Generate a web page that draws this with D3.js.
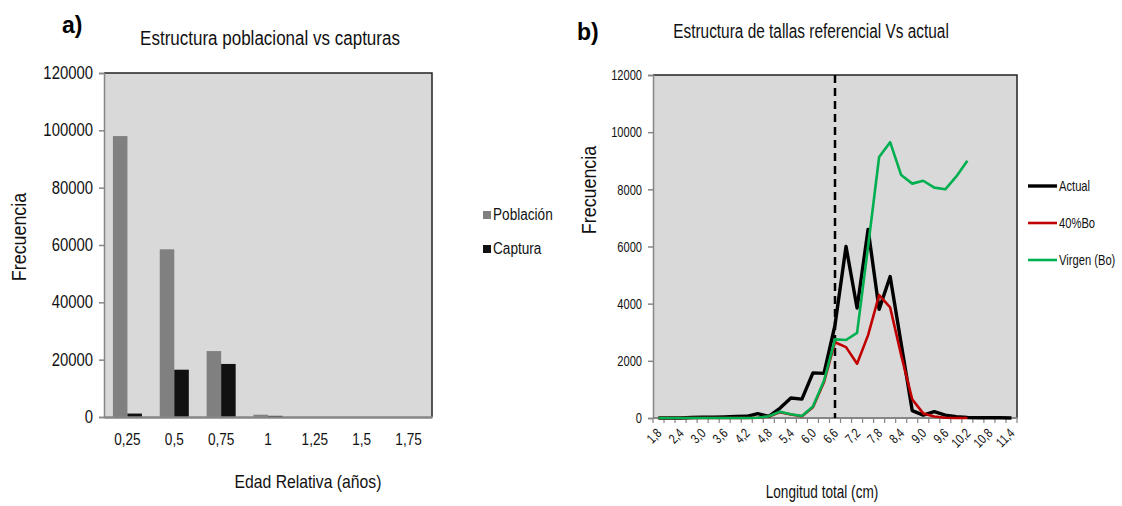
<!DOCTYPE html>
<html>
<head>
<meta charset="utf-8">
<script src="https://cdn.jsdelivr.net/npm/d3@7"></script>
<style>
  body { margin: 0; background: #fff; }
  svg { display: block; font-family: "Liberation Sans", Arial, sans-serif; }
</style>
</head>
<body>
<div id="chart"></div>
<script>
// a) age structure: population vs catch
const ageCats = ["0,25", "0,5", "0,75", "1", "1,25", "1,5", "1,75"];
const poblacion = [98000, 58500, 23000, 800, 0, 0, 0];
const captura = [1200, 16500, 18500, 400, 0, 0, 0];
const leftTicks = [0, 20000, 40000, 60000, 80000, 100000, 120000];

// b) length structure, reference vs current
const lenCats = ["1,8", "2,1", "2,4", "2,7", "3,0", "3,3", "3,6", "3,9", "4,2", "4,5", "4,8",
  "5,1", "5,4", "5,7", "6,0", "6,3", "6,6", "6,9", "7,2", "7,5", "7,8", "8,1", "8,4", "8,7",
  "9,0", "9,3", "9,6", "9,9", "10,2", "10,5", "10,8", "11,1", "11,4"];
const actual = [0, 0, 0, 20, 30, 30, 40, 50, 60, 150, 60, 340, 700, 660, 1580, 1560, 3250,
  6000, 3850, 6600, 3800, 4950, 2600, 260, 100, 220, 100, 50, 20, 10, 10, 10, 0];
const bo40 = [0, 0, 0, 0, 0, 0, 0, 0, 0, 10, 50, 200, 120, 60, 380, 1250, 2650, 2480, 1900,
  2900, 4300, 3870, 2200, 650, 160, 50, 10, 0, 0];
const virgen = [0, 0, 0, 0, 0, 0, 0, 0, 0, 10, 60, 220, 130, 70, 400, 1300, 2750, 2730, 2980,
  6000, 9130, 9650, 8500, 8200, 8300, 8060, 8000, 8450, 9000];
const lenTicks = ["1,8", "2,4", "3,0", "3,6", "4,2", "4,8", "5,4", "6,0", "6,6", "7,2", "7,8",
  "8,4", "9,0", "9,6", "10,2", "10,8", "11,4"];
const rightTicks = [0, 2000, 4000, 6000, 8000, 10000, 12000];
const refLen = "6,6";

const W = 1122, H = 506;
const svg = d3.select("#chart").append("svg").attr("width", W).attr("height", H);
svg.append("rect").attr("width", W).attr("height", H).attr("fill", "#fff");

const axisGray = "#868686";

// ---------- panel a ----------
const A = { left: 104, right: 432, top: 73, bottom: 417 };

svg.append("rect")
  .attr("x", A.left).attr("y", A.top)
  .attr("width", A.right - A.left).attr("height", A.bottom - A.top)
  .attr("fill", "#d9d9d9");

const xA = d3.scaleBand().domain(ageCats).range([A.left, A.right])
  .paddingInner(0.38).paddingOuter(0.19);
const xAsub = d3.scaleBand().domain(["p", "c"]).range([0, xA.bandwidth()]);
const yA = d3.scaleLinear().domain([0, 120000]).range([A.bottom, A.top]);

const barsA = svg.append("g");
barsA.selectAll(".pob").data(poblacion).join("rect")
  .attr("class", "pob")
  .attr("x", (d, i) => xA(ageCats[i]) + xAsub("p"))
  .attr("y", (d) => yA(d))
  .attr("width", xAsub.bandwidth())
  .attr("height", (d) => A.bottom - yA(d))
  .attr("fill", "#808080");
barsA.selectAll(".cap").data(captura).join("rect")
  .attr("class", "cap")
  .attr("x", (d, i) => xA(ageCats[i]) + xAsub("c"))
  .attr("y", (d) => yA(d))
  .attr("width", xAsub.bandwidth())
  .attr("height", (d) => A.bottom - yA(d))
  .attr("fill", "#111");

// frame: top + right dark
svg.append("path")
  .attr("d", `M${A.left},${A.top}H${A.right}V${A.bottom}`)
  .attr("fill", "none").attr("stroke", "#222").attr("stroke-width", 1.5);

const yAxisA = svg.append("g")
  .attr("transform", `translate(${A.left},0)`)
  .call(d3.axisLeft(yA).tickValues(leftTicks).tickSize(5).tickPadding(6).tickFormat(d3.format("d")));
const xAxisA = svg.append("g")
  .attr("transform", `translate(0,${A.bottom})`)
  .call(d3.axisBottom(xA).tickSize(0).tickPadding(17));

[yAxisA, xAxisA].forEach((g) => {
  g.selectAll("path, line").attr("stroke", axisGray).attr("stroke-width", 1.5);
  g.selectAll("text").attr("fill", "#111").style("font-family", null);
});
yAxisA.selectAll("text").style("font-size", "17.5px");
xAxisA.selectAll("text").style("font-size", "16px");
xAxisA.select(".domain").attr("stroke-width", 2.5);

svg.append("text").attr("class", "nc").attr("x", 62).attr("y", 33)
  .attr("font-size", "23px").attr("font-weight", "bold").attr("fill", "#000").text("a)");
svg.append("text").attr("x", 270).attr("y", 45).attr("text-anchor", "middle")
  .attr("font-size", "20px").attr("fill", "#111").text("Estructura poblacional  vs capturas");
svg.append("text").attr("transform", "translate(26,237) rotate(-90)").attr("text-anchor", "middle")
  .attr("font-size", "21px").attr("fill", "#111").text("Frecuencia");
svg.append("text").attr("x", 308).attr("y", 488).attr("text-anchor", "middle")
  .attr("font-size", "18.5px").attr("fill", "#111").text("Edad Relativa (años)");

const legA = svg.append("g");
[["Población", "#808080", 220], ["Captura", "#111", 254]].forEach(([name, col, y]) => {
  legA.append("rect").attr("x", 483).attr("y", y - 9).attr("width", 8).attr("height", 8).attr("fill", col);
  legA.append("text").attr("x", 493).attr("y", y).attr("font-size", "16px").attr("fill", "#111").text(name);
});

// ---------- panel b ----------
const B = { left: 653, right: 1017, top: 75, bottom: 418 };

svg.append("rect")
  .attr("x", B.left).attr("y", B.top)
  .attr("width", B.right - B.left).attr("height", B.bottom - B.top)
  .attr("fill", "#d9d9d9");
svg.append("path")
  .attr("d", `M${B.left},${B.top}H${B.right}V${B.bottom}`)
  .attr("fill", "none").attr("stroke", "#222").attr("stroke-width", 1.5);

const xB = d3.scaleBand().domain(lenCats).range([B.left, B.right]);
const xc = (c) => xB(c) + xB.bandwidth() / 2;
const yB = d3.scaleLinear().domain([0, 12000]).range([B.bottom, B.top]);

const yAxisB = svg.append("g")
  .attr("transform", `translate(${B.left},0)`)
  .call(d3.axisLeft(yB).tickValues(rightTicks).tickSize(5).tickPadding(6).tickFormat(d3.format("d")));
yAxisB.selectAll("path, line").attr("stroke", axisGray).attr("stroke-width", 1.5);
yAxisB.selectAll("text").attr("fill", "#111").attr("data-sq", 0.74)
  .style("font-size", "15px").style("font-family", null);

const xAxisB = svg.append("g").attr("transform", `translate(0,${B.bottom})`);
xAxisB.append("line").attr("x1", B.left).attr("x2", B.right)
  .attr("stroke", axisGray).attr("stroke-width", 2);
xAxisB.selectAll(".tk").data(lenCats.concat([null])).join("line")
  .attr("class", "tk")
  .attr("x1", (d) => (d === null ? B.right : xB(d)))
  .attr("x2", (d) => (d === null ? B.right : xB(d)))
  .attr("y1", 0).attr("y2", 5)
  .attr("stroke", axisGray).attr("stroke-width", 1.2);
xAxisB.selectAll(".tl").data(lenTicks).join("text")
  .attr("class", "tl")
  .attr("transform", (d) => `translate(${xc(d) + 4},${16}) rotate(-45)`)
  .attr("text-anchor", "end")
  .attr("font-size", "13.5px").attr("fill", "#111").attr("data-sq", 0.78)
  .text((d) => d);

// reference size line
svg.append("line")
  .attr("x1", xc(refLen)).attr("x2", xc(refLen))
  .attr("y1", B.top).attr("y2", B.bottom)
  .attr("stroke", "#000").attr("stroke-width", 2.5).attr("stroke-dasharray", "8,5");

const series = [
  { name: "Actual", values: actual, color: "#000000", width: 3.4 },
  { name: "40%Bo", values: bo40, color: "#c00000", width: 2.6 },
  { name: "Virgen (Bo)", values: virgen, color: "#00b050", width: 2.6 },
];

const line = d3.line().x((d, i) => xc(lenCats[i])).y((d) => yB(d));
svg.append("g").selectAll("path").data(series).join("path")
  .attr("d", (s) => line(s.values))
  .attr("fill", "none")
  .attr("stroke", (s) => s.color)
  .attr("stroke-width", (s) => s.width)
  .attr("stroke-linejoin", "round");

// legend text squeezed with a transform so it stays inside the page edge
const legB = svg.append("g");
series.forEach((s, i) => {
  const y = 186 + i * 37;
  legB.append("line").attr("x1", 1028).attr("x2", 1057).attr("y1", y).attr("y2", y)
    .attr("stroke", s.color).attr("stroke-width", s.width);
  legB.append("text").attr("class", "nc")
    .attr("transform", `translate(1059,${y + 5}) scale(0.8,1)`)
    .attr("font-size", "14px").attr("fill", "#111").text(s.name);
});

svg.append("text").attr("class", "nc").attr("x", 577).attr("y", 40)
  .attr("font-size", "23px").attr("font-weight", "bold").attr("fill", "#000").text("b)");
svg.append("text").attr("x", 811).attr("y", 38).attr("text-anchor", "middle")
  .attr("font-size", "20px").attr("data-sq", 0.77).attr("fill", "#111")
  .text("Estructura de tallas referencial Vs actual");
svg.append("text").attr("transform", "translate(596,190) rotate(-90)").attr("text-anchor", "middle")
  .attr("font-size", "21px").attr("fill", "#111").text("Frecuencia");
svg.append("text").attr("x", 822).attr("y", 498).attr("text-anchor", "middle")
  .attr("font-size", "18px").attr("data-sq", 0.755).attr("fill", "#111").text("Longitud total (cm)");

// the original uses a narrow face; squeeze the regular one to match
svg.selectAll("text:not(.nc)").each(function () {
  const sq = +(this.getAttribute("data-sq") || 0.85);
  const w = this.getComputedTextLength();
  this.setAttribute("textLength", w * sq);
  this.setAttribute("lengthAdjust", "spacingAndGlyphs");
});
</script>
</body>
</html>
